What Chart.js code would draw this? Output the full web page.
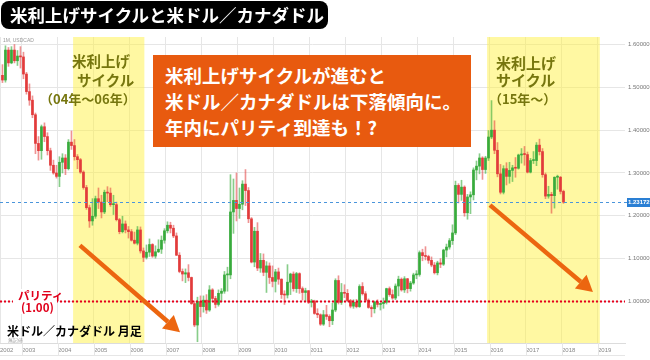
<!DOCTYPE html>
<html lang="ja">
<head>
<meta charset="utf-8">
<title>米利上げサイクルと米ドル／カナダドル</title>
<script src="https://cdn.jsdelivr.net/npm/chart.js@4.4.0/dist/chart.umd.min.js"></script>
<style>
  html, body { margin: 0; padding: 0; background: #fff; }
  #wrap { position: relative; width: 650px; height: 360px; overflow: hidden; font-family: "Noto Sans CJK JP", sans-serif; }
  #chart { position: absolute; left: 0; top: 0; }
  .ov { position: absolute; white-space: nowrap; line-height: 1; pointer-events: none; }
  #title { left: 1px; top: 1px; width: 327px; height: 28px; background: #000; border-radius: 8px; color: #fff;
           font-weight: 700; font-size: 17.5px; line-height: 28px; padding-left: 9px; box-sizing: border-box; }
  #note { left: 153px; top: 55px; width: 318px; height: 92px; background: #e85a0f; color: #fff;
          font-weight: 700; font-size: 18.5px; line-height: 26px; padding: 7px 0 0 12px; box-sizing: border-box; }
  .band { color: #76760e; font-weight: 700; }
  .parity { color: #e0001b; font-weight: 700; font-size: 11.5px; }
  .tiny { color: #999; font-size: 5px; font-family: "Liberation Sans", sans-serif; }
</style>
</head>
<body>
<div id="wrap">
  <canvas id="chart" width="650" height="360"></canvas>

  <div class="ov" id="title">米利上げサイクルと米ドル／カナダドル</div>
  <div class="ov tiny" style="left:3px;top:38px;">1M, USDCAD</div>

  <div class="ov band" style="left:72px;top:54px;font-size:14.5px;">米利上げ</div>
  <div class="ov band" style="left:77px;top:73px;font-size:14.5px;">サイクル</div>
  <div class="ov band" style="left:40px;top:92px;font-size:13px;">（04年～06年）</div>

  <div class="ov band" style="left:496px;top:55px;font-size:15px;">米利上げ</div>
  <div class="ov band" style="left:496px;top:72px;font-size:15px;">サイクル</div>
  <div class="ov band" style="left:489px;top:92px;font-size:13px;">（15年～）</div>

  <div class="ov" id="note">米利上げサイクルが進むと<br>米ドル／カナダドルは下落傾向に。<br>年内にパリティ到達も！?</div>

  <div class="ov" style="left:13px;top:289px;width:44px;height:25px;background:#fff;"></div>
  <div class="ov parity" style="left:18px;top:290px;">パリティ</div>
  <div class="ov parity" style="left:21px;top:302px;">(1.00)</div>

  <div class="ov" style="left:7px;top:325px;font-size:12px;font-weight:700;color:#000;">米ドル／カナダドル 月足</div>
  <div class="ov tiny" style="left:8px;top:338px;">無記値</div>
</div>

<script>
// monthly USD/CAD candles, Jun 2002 .. Jan 2018
var startYear = 2002;
var startMonth = 5;      // 0 = Jan, so 5 = Jun
var firstOpen = 1.528;

var closes = [
  1.517, 1.587, 1.557, 1.587, 1.562, 1.573, 1.571,
  1.531, 1.490, 1.470, 1.436, 1.369, 1.352, 1.408, 1.385, 1.352, 1.318, 1.300, 1.292,
  1.325, 1.335, 1.310, 1.372, 1.364, 1.338, 1.331, 1.302, 1.266, 1.219, 1.188, 1.199,
  1.240, 1.232, 1.209, 1.255, 1.253, 1.226, 1.226, 1.191, 1.163, 1.181, 1.167, 1.163,
  1.143, 1.136, 1.167, 1.118, 1.103, 1.115, 1.133, 1.106, 1.116, 1.122, 1.143, 1.165,
  1.178, 1.171, 1.153, 1.108, 1.070, 1.064, 1.067, 1.056, 0.995, 0.945, 1.000, 0.988,
  1.003, 0.980, 1.027, 1.007, 0.993, 1.019, 1.024, 1.062, 1.062, 1.209, 1.236, 1.217,
  1.227, 1.274, 1.259, 1.193, 1.092, 1.164, 1.078, 1.096, 1.068, 1.083, 1.056, 1.047,
  1.069, 1.052, 1.016, 1.015, 1.045, 1.064, 1.030, 1.065, 1.030, 1.021, 1.025, 0.998,
  1.001, 0.972, 0.969, 0.947, 0.969, 0.965, 0.955, 0.980, 1.049, 0.998, 1.021, 1.019,
  1.002, 0.989, 0.998, 0.988, 1.035, 1.018, 1.003, 0.986, 0.983, 0.999, 0.993, 0.995,
  0.998, 1.030, 1.016, 1.008, 1.036, 1.052, 1.027, 1.053, 1.030, 1.043, 1.062, 1.063,
  1.114, 1.107, 1.105, 1.096, 1.085, 1.067, 1.090, 1.087, 1.120, 1.127, 1.142, 1.160,
  1.271, 1.250, 1.267, 1.207, 1.244, 1.249, 1.307, 1.316, 1.335, 1.308, 1.335, 1.384,
  1.400, 1.353, 1.298, 1.255, 1.310, 1.292, 1.306, 1.312, 1.311, 1.342, 1.344, 1.343,
  1.302, 1.329, 1.329, 1.365, 1.350, 1.296, 1.246, 1.250, 1.247, 1.290, 1.290, 1.257,
  1.232
];

var highs = [
  1.553, 1.597, 1.593, 1.595, 1.600, 1.586, 1.595,
  1.582, 1.535, 1.508, 1.480, 1.440, 1.385, 1.412, 1.417, 1.394, 1.358, 1.330, 1.318,
  1.338, 1.345, 1.343, 1.378, 1.398, 1.378, 1.343, 1.334, 1.305, 1.271, 1.225, 1.240,
  1.246, 1.265, 1.248, 1.260, 1.268, 1.265, 1.248, 1.232, 1.194, 1.199, 1.188, 1.175,
  1.168, 1.162, 1.175, 1.174, 1.125, 1.132, 1.146, 1.135, 1.130, 1.144, 1.153, 1.170,
  1.186, 1.185, 1.178, 1.160, 1.114, 1.076, 1.076, 1.086, 1.057, 1.001, 1.010, 1.013,
  1.013, 1.016, 1.037, 1.030, 1.012, 1.027, 1.030, 1.070, 1.080, 1.296, 1.286, 1.300,
  1.265, 1.282, 1.308, 1.266, 1.196, 1.173, 1.184, 1.112, 1.111, 1.093, 1.090, 1.083,
  1.075, 1.078, 1.053, 1.025, 1.086, 1.066, 1.069, 1.068, 1.067, 1.034, 1.031, 1.026,
  1.005, 1.003, 0.983, 0.971, 0.979, 0.991, 0.969, 0.996, 1.053, 1.060, 1.042, 1.039,
  1.028, 1.005, 1.004, 1.005, 1.039, 1.044, 1.023, 1.006, 0.990, 1.001, 1.004, 0.996,
  1.008, 1.031, 1.034, 1.027, 1.041, 1.059, 1.055, 1.058, 1.054, 1.047, 1.066, 1.072,
  1.118, 1.122, 1.128, 1.108, 1.104, 1.091, 1.094, 1.100, 1.122, 1.134, 1.147, 1.179,
  1.281, 1.275, 1.283, 1.270, 1.250, 1.256, 1.312, 1.328, 1.345, 1.338, 1.339, 1.399,
  1.469, 1.422, 1.371, 1.320, 1.317, 1.324, 1.325, 1.318, 1.336, 1.344, 1.357, 1.362,
  1.349, 1.334, 1.350, 1.371, 1.379, 1.357, 1.300, 1.269, 1.255, 1.291, 1.295, 1.292,
  1.260
];

var lows = [
  1.511, 1.512, 1.549, 1.555, 1.557, 1.551, 1.545,
  1.520, 1.484, 1.458, 1.429, 1.345, 1.330, 1.332, 1.373, 1.342, 1.306, 1.297, 1.288,
  1.268, 1.300, 1.296, 1.307, 1.355, 1.330, 1.310, 1.299, 1.262, 1.215, 1.173, 1.178,
  1.194, 1.217, 1.195, 1.205, 1.233, 1.222, 1.203, 1.188, 1.158, 1.160, 1.160, 1.148,
  1.141, 1.134, 1.132, 1.113, 1.093, 1.099, 1.105, 1.103, 1.101, 1.114, 1.112, 1.136,
  1.160, 1.160, 1.149, 1.107, 1.067, 1.048, 1.044, 1.048, 0.993, 0.941, 0.906, 0.964,
  0.975, 0.972, 0.977, 0.999, 0.985, 0.989, 1.000, 1.019, 1.024, 1.053, 1.159, 1.188,
  1.194, 1.214, 1.224, 1.184, 1.090, 1.081, 1.072, 1.068, 1.060, 1.021, 1.042, 1.034,
  1.022, 1.040, 1.007, 0.993, 1.008, 1.016, 1.024, 1.021, 1.019, 1.003, 1.001, 0.995,
  0.987, 0.970, 0.962, 0.944, 0.944, 0.958, 0.941, 0.946, 0.976, 0.994, 0.993, 1.009,
  0.999, 0.985, 0.984, 0.985, 0.986, 1.015, 1.000, 0.984, 0.964, 0.973, 0.987, 0.980,
  0.984, 0.994, 1.012, 1.005, 1.004, 1.013, 1.024, 1.021, 1.020, 1.024, 1.040, 1.053,
  1.059, 1.095, 1.097, 1.089, 1.081, 1.064, 1.062, 1.079, 1.084, 1.104, 1.122, 1.133,
  1.156, 1.230, 1.236, 1.199, 1.192, 1.205, 1.237, 1.284, 1.298, 1.285, 1.299, 1.329,
  1.380, 1.345, 1.291, 1.251, 1.251, 1.272, 1.276, 1.280, 1.290, 1.309, 1.323, 1.318,
  1.300, 1.300, 1.322, 1.317, 1.342, 1.290, 1.240, 1.241, 1.206, 1.218, 1.262, 1.251,
  1.229
];

var lastPrice = 1.23172;
var parity = 1.0;
var hikeCycles = [[2004.42, 2006.40], [2015.92, 2019.05]];
var yearTicks = [2003, 2004, 2005, 2006, 2007, 2008, 2009, 2010, 2011, 2012, 2013, 2014, 2015, 2016, 2017, 2018, 2019];
var priceTicks = [1.0, 1.1, 1.2, 1.3, 1.4, 1.5, 1.6];
// arrows in (year, price)
var arrows = [
  [[2004.61, 1.131], [2007.39, 0.928]],
  [[2016.00, 1.225], [2018.86, 1.022]]
];

var xMin = 2002.39, xMax = 2019.75;
var yMin = 0.903, yMax = 1.6175;

var upColor = '#38ab3c', downColor = '#e23b3b';

var bodies = [], wicks = [], bodyColors = [], wickColors = [];
closes.forEach(function (c, i) {
  var o = i === 0 ? firstOpen : closes[i - 1];
  var x = startYear + (startMonth + i + 0.5) / 12;
  var up = c >= o;
  bodies.push({ x: x, y: [o, c] });
  wicks.push({ x: x, y: [lows[i], highs[i]] });
  bodyColors.push(up ? upColor : downColor);
  wickColors.push(up ? 'rgba(56,171,60,0.6)' : 'rgba(226,59,59,0.55)');
});

function drawArrow(ctx, x0, y0, x1, y1) {
  var head = 16, half = 9;
  var ang = Math.atan2(y1 - y0, x1 - x0);
  var bx = x1 - head * Math.cos(ang), by = y1 - head * Math.sin(ang);
  ctx.lineWidth = 4.5;
  ctx.beginPath();
  ctx.moveTo(x0, y0);
  ctx.lineTo(bx, by);
  ctx.stroke();
  ctx.beginPath();
  ctx.moveTo(x1, y1);
  ctx.lineTo(bx + half * Math.sin(ang), by - half * Math.cos(ang));
  ctx.lineTo(bx - half * Math.sin(ang), by + half * Math.cos(ang));
  ctx.closePath();
  ctx.fill();
}

var deco = {
  id: 'deco',
  beforeDatasetsDraw: function (chart) {
    var ctx = chart.ctx, a = chart.chartArea, x = chart.scales.x;
    ctx.save();
    // hiking-cycle bands
    ctx.fillStyle = 'rgba(255,241,60,0.48)';
    hikeCycles.forEach(function (c) {
      var x0 = x.getPixelForValue(c[0]), x1 = x.getPixelForValue(c[1]);
      ctx.fillRect(x0, a.top, x1 - x0, a.bottom - a.top);
    });
    // grid lines running through the date strip
    ctx.strokeStyle = '#e6e6e6';
    ctx.lineWidth = 1;
    yearTicks.forEach(function (t) {
      var px = Math.round(x.getPixelForValue(t)) + 0.5;
      ctx.beginPath(); ctx.moveTo(px, a.bottom); ctx.lineTo(px, 355); ctx.stroke();
    });
    ctx.beginPath(); ctx.moveTo(0, 355.5); ctx.lineTo(a.right, 355.5); ctx.stroke();
    ctx.restore();
  },
  afterDatasetsDraw: function (chart) {
    var ctx = chart.ctx, a = chart.chartArea, x = chart.scales.x, y = chart.scales.y;
    ctx.save();
    // parity
    var py = y.getPixelForValue(parity);
    ctx.strokeStyle = '#e5001c';
    ctx.lineWidth = 2;
    ctx.setLineDash([2, 2]);
    ctx.beginPath(); ctx.moveTo(a.left, py); ctx.lineTo(a.right, py); ctx.stroke();
    // last price
    var ly = Math.round(y.getPixelForValue(lastPrice)) + 0.5;
    ctx.strokeStyle = '#4a95db';
    ctx.lineWidth = 1;
    ctx.setLineDash([3, 3]);
    ctx.beginPath(); ctx.moveTo(a.left, ly); ctx.lineTo(a.right + 2, ly); ctx.stroke();
    ctx.setLineDash([]);
    ctx.fillStyle = '#2a7fd4';
    ctx.fillRect(a.right + 2, ly - 4.5, 23, 9);
    ctx.fillStyle = '#fff';
    ctx.font = 'bold 6px "Liberation Sans"';
    ctx.textBaseline = 'middle';
    ctx.fillText(lastPrice.toFixed(5), a.right + 3, ly);
    // arrows
    ctx.strokeStyle = '#ec6610';
    ctx.fillStyle = '#ec6610';
    arrows.forEach(function (ar) {
      drawArrow(ctx, x.getPixelForValue(ar[0][0]), y.getPixelForValue(ar[0][1]),
                x.getPixelForValue(ar[1][0]), y.getPixelForValue(ar[1][1]));
    });
    ctx.restore();
  }
};

new Chart(document.getElementById('chart'), {
  type: 'bar',
  data: {
    datasets: [
      { label: 'body', data: bodies, backgroundColor: bodyColors, barThickness: 2, minBarLength: 1, order: 0 },
      { label: 'wick', data: wicks, backgroundColor: wickColors, barThickness: 1, order: 1 }
    ]
  },
  options: {
    responsive: false,
    animation: false,
    layout: { padding: { top: 37, left: 0, right: 0, bottom: 0 } },
    datasets: { bar: { grouped: false, borderWidth: 0 } },
    plugins: { legend: { display: false }, tooltip: { enabled: false } },
    scales: {
      x: {
        type: 'linear', min: xMin, max: xMax, offset: false,
        grid: { color: '#e6e6e6', drawTicks: false, offset: false },
        border: { color: '#dcdcdc' },
        afterBuildTicks: function (s) {
          s.ticks = [xMin].concat(yearTicks).map(function (v) { return { value: v }; });
        },
        afterFit: function (s) {
          s.height = 17;
          s.paddingLeft = 0;
          s.paddingRight = 0;
        },
        ticks: {
          autoSkip: false, maxRotation: 0, align: 'start', padding: 4,
          color: '#888', font: { size: 6, family: 'Liberation Sans' },
          callback: function (v) { return String(Math.floor(v)); }
        }
      },
      y: {
        position: 'right', min: yMin, max: yMax,
        grid: { color: '#e6e6e6', drawTicks: false },
        border: { display: false },
        afterBuildTicks: function (s) {
          s.ticks = priceTicks.map(function (v) { return { value: v }; });
        },
        afterFit: function (s) {
          s.width = 25;
          s.paddingTop = 0;
          s.paddingBottom = 0;
        },
        ticks: {
          padding: 3, color: '#777', font: { size: 6, family: 'Liberation Sans' },
          callback: function (v) { return v.toFixed(5); }
        }
      }
    }
  },
  plugins: [deco]
});
</script>
</body>
</html>
